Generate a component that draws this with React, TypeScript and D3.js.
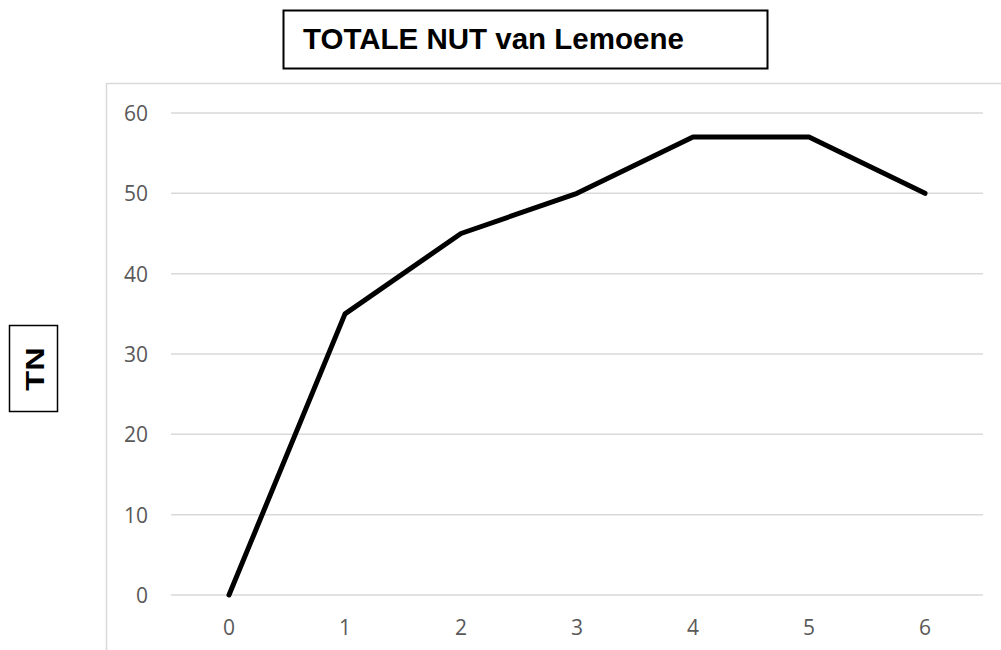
import React from "react";
import * as d3 from "d3";

const categories: string[] = ["0", "1", "2", "3", "4", "5", "6"];
const values: number[] = [0, 35, 45, 50, 57, 57, 50];
const yTicks: number[] = [0, 10, 20, 30, 40, 50, 60];
const titleText = "TOTALE NUT van Lemoene";
const yTitle = "TN";

export default function App() {
  const W = 1001;
  const H = 650;
  const plotLeft = 171;
  const plotRight = 983;
  const x = d3.scalePoint<string>().domain(categories).range([plotLeft, plotRight]).padding(0.5);
  const y = d3.scaleLinear().domain([0, 60]).range([595, 113]);
  const line = d3
    .line<number>()
    .x((_, i) => x(categories[i]) as number)
    .y((d) => y(d));
  const tickFont = "'Open Sans', 'Liberation Sans', sans-serif";
  const boldFont = "'Liberation Sans', Arial, sans-serif";

  return (
    <svg
      width={W}
      height={H}
      style={{ position: "absolute", left: 0, top: 0, background: "#fff" }}
    >
      <rect x={0} y={0} width={W} height={H} fill="#fff" />
      {/* chart area border */}
      <rect x={106.5} y={83.5} width={W} height={H} fill="none" stroke="#d9d9d9" strokeWidth={1.5} />
      {/* gridlines */}
      {yTicks.map((t) => (
        <line key={"g" + t} x1={plotLeft} x2={plotRight} y1={y(t)} y2={y(t)} stroke="#d9d9d9" strokeWidth={1.5} />
      ))}
      {/* y tick labels */}
      {yTicks.map((t) => (
        <text
          key={"yl" + t}
          x={148}
          y={y(t)}
          textAnchor="end"
          dominantBaseline="central"
          fontFamily={tickFont}
          fontSize={21}
          fill="#595959"
        >
          {t}
        </text>
      ))}
      {/* x tick labels */}
      {categories.map((c) => (
        <text
          key={"xl" + c}
          x={x(c) as number}
          y={627}
          textAnchor="middle"
          dominantBaseline="central"
          fontFamily={tickFont}
          fontSize={21}
          fill="#595959"
        >
          {c}
        </text>
      ))}
      {/* data line */}
      <path d={line(values) ?? ""} fill="none" stroke="#000" strokeWidth={5} strokeLinejoin="round" strokeLinecap="round" />
      {/* title box */}
      <rect x={283.5} y={10.5} width={484} height={58} fill="#fff" stroke="#000" strokeWidth={2} />
      <text x={303} y={49} fontFamily={boldFont} fontWeight="bold" fontSize={29.5} fill="#000">
        {titleText}
      </text>
      {/* y title box */}
      <rect x={9.5} y={325.5} width={48} height={86} fill="#fff" stroke="#000" strokeWidth={1.5} />
      <text
        transform={`translate(35,369) rotate(-90) scale(1.3,1)`}
        textAnchor="middle"
        dominantBaseline="central"
        fontFamily={boldFont}
        fontWeight="bold"
        fontSize={25}
        fill="#000"
      >
        {yTitle}
      </text>
    </svg>
  );
}
